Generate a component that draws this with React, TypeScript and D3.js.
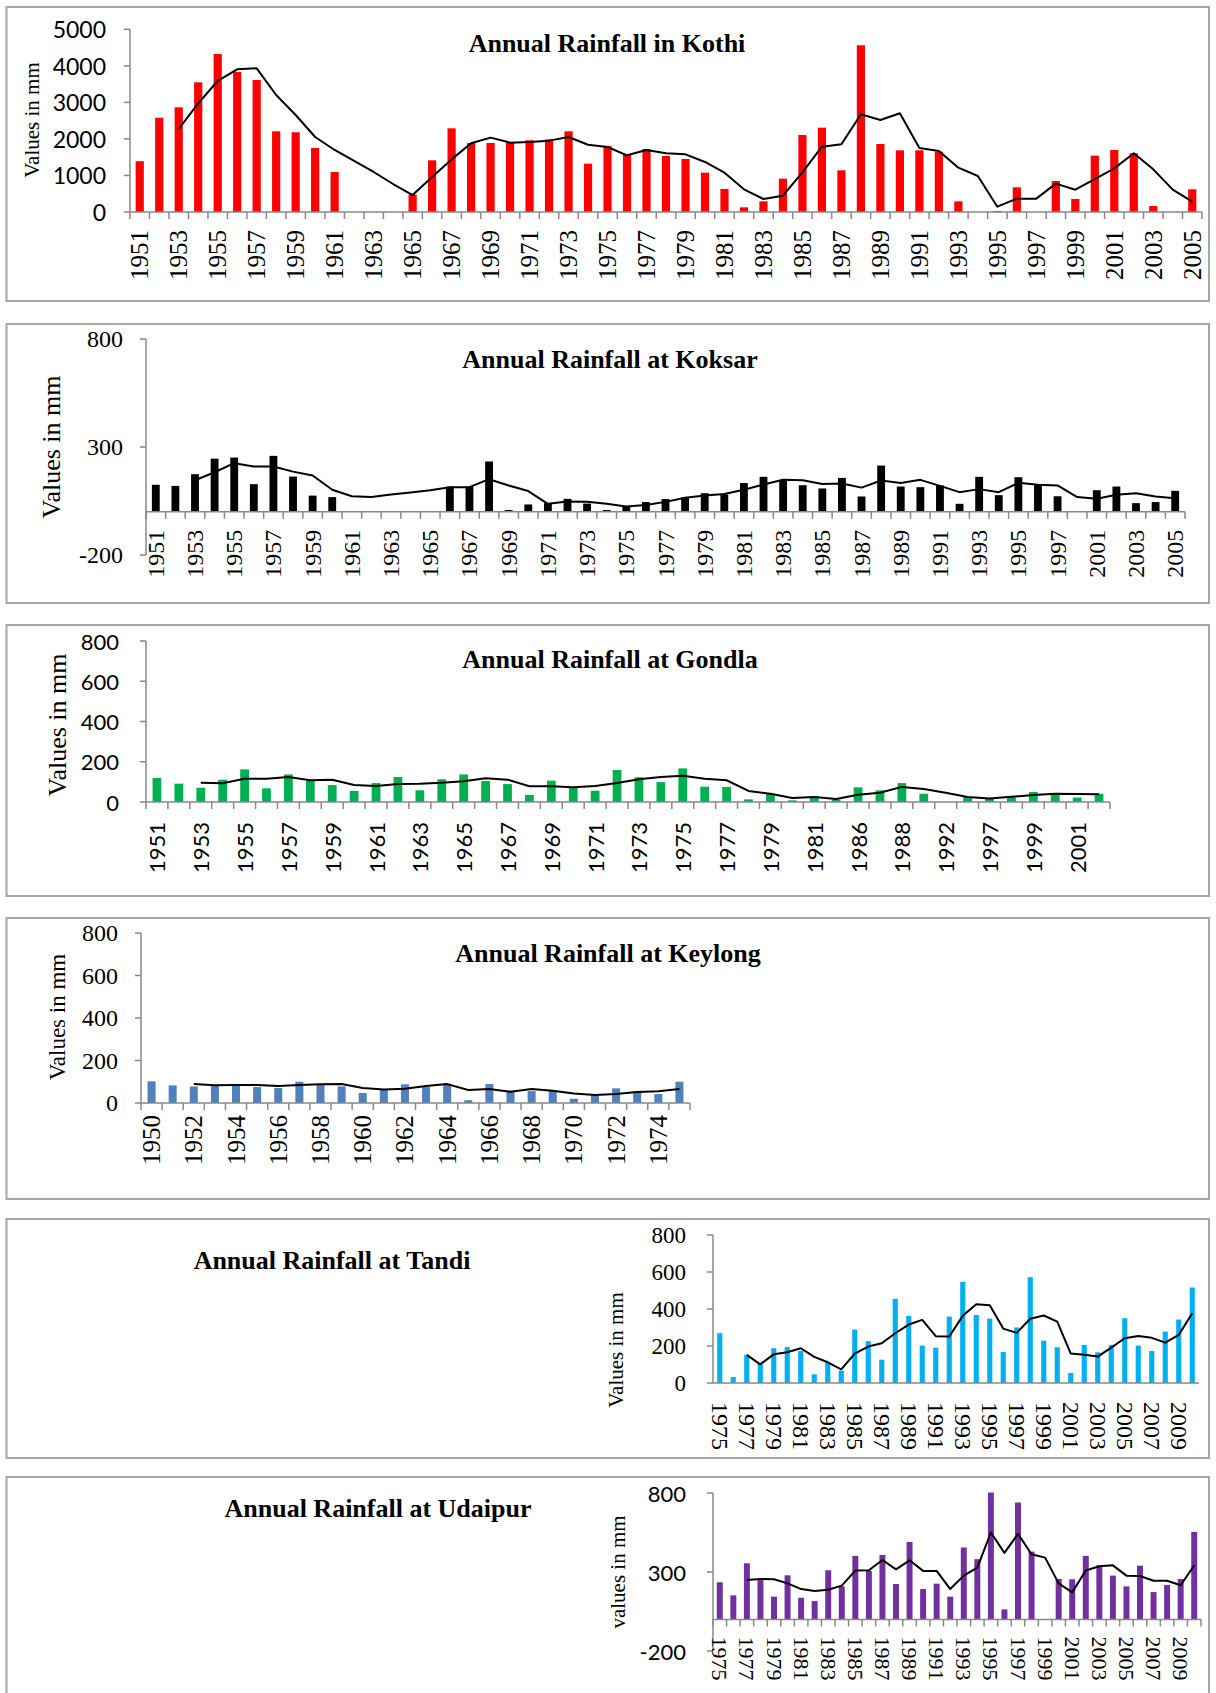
import React from 'react';
import * as d3 from 'd3';

// ---- Kothi ----
const kothiYears = d3.range(1951, 2006).map(String);
const kothiRain = [1390, 2580, 2865, 3549, 4325, 3832, 3613, 2208, 2181, 1752, 1095, null, null, null, 474,
  1414, 2290, 1889, 1889, 1907, 1962, 1989, 2208, 1323, 1807, 1560, 1724, 1533, 1451, 1077, 630, 128, 292, 912,
  2108, 2308, 1141, 4562, 1861, 1688, 1688, 1651, 292, null, 27, 675, null, 849, 356, 1542, 1697, 1606, 164, null, 620];
const kothiAvg = [null, null, 2272, 2975, 3586, 3905, 3932, 3202, 2655, 2053, 1697, 1396, 1095, 766, 465,
  960, 1440, 1880, 2035, 1898, 1919, 1953, 2053, 1840, 1779, 1551, 1697, 1606, 1578, 1369, 1077, 620, 356, 447,
  1086, 1788, 1852, 2673, 2518, 2701, 1752, 1670, 1214, 985, 146, 365, 365, 776, 611, 903, 1195, 1606, 1168, 611, 283];
const kothiTicks = [0, 1000, 2000, 3000, 4000, 5000];

// ---- Koksar ----
const koksarYears = [...d3.range(1951, 1998).map(String), '2000', '2001', '2002', '2003', '2004', '2005'];
const koksarRain = [125, 120, 174, 246, 251, 128, 259, 163, 75, 68, null, null, null, null, null,
  116, 116, 233, 8, 34, 40, 60, 38, 8, 24, 45, 59, 66, 86, 80, 133, 162, 148, 123, 108, 157, 71, 214,
  117, 114, 122, 37, 162, 77, 160, 126, 72, null, 100, 117, 40, 45, 97];
const koksarAvg = [null, null, 146, 183, 225, 210, 210, 186, 168, 102, 72, 69, 80, 89, 100,
  114, 114, 151, 122, 96, 37, 48, 46, 37, 25, 31, 46, 65, 75, 82, 102, 126, 148, 146, 129, 131, 112, 145,
  133, 148, 120, 91, 105, 91, 134, 125, 122, 68, 60, 79, 86, 71, 63];
const koksarTicks = [-200, 300, 800];

// ---- Gondla ----
const gondlaYears = [...d3.range(1951, 1982).map(String), '1984', '1986', '1987', '1988', '1991', '1992',
  '1996', '1997', '1998', '1999', '2000', '2001', '2002'];
const gondlaRain = [119, 91, 71, 111, 162, 68, 137, 106, 84, 55, 94, 124, 58, 113, 137, 104, 89, 35, 106, 71,
  56, 159, 123, 99, 167, 76, 75, 13, 41, 8, 28, 12, 73, 58, 94, 41, null, 25, 15, 25, 50, 38, 22, 41];
const gondlaAvg = [null, null, 96, 93, 116, 116, 124, 108, 111, 84, 79, 89, 91, 96, 103, 118, 111, 78, 78, 73,
  79, 94, 113, 124, 131, 116, 108, 55, 41, 20, 25, 15, 36, 46, 75, 65, 46, 25, 18, 26, 35, 41, 40, 38];
const gondlaTicks = [0, 200, 400, 600, 800];

// ---- Keylong ----
const keylongYears = d3.range(1950, 1976).map(String);
const keylongRain = [102, 83, 78, 83, 83, 75, 71, 100, 88, 78, 47, 64, 88, 75, 91, 13, 89, 58, 56, 58, 20, 39, 69, 52, 42, 100];
const keylongAvg = [null, null, 89, 83, 85, 85, 80, 85, 88, 89, 71, 64, 67, 80, 89, 61, 66, 53, 66, 58, 45, 38, 42, 52, 55, 66];
const keylongTicks = [0, 200, 400, 600, 800];

// ---- Tandi ----
const tandiYears = d3.range(1975, 2011).map(String);
const tandiRain = [269, 32, 152, 106, 188, 195, 173, 47, 114, 67, 289, 226, 126, 455, 363, 202, 191, 359, 547, 368,
  348, 168, 300, 572, 229, 193, 54, 206, 166, 206, 350, 202, 173, 278, 343, 516];
const tandiAvg = [null, null, 152, 101, 155, 166, 188, 141, 112, 74, 159, 197, 215, 269, 316, 341, 253, 251, 363, 426,
  420, 294, 271, 347, 365, 332, 159, 153, 143, 191, 242, 254, 244, 218, 260, 377];
const tandiTicks = [0, 200, 400, 600, 800];

// ---- Udaipur ----
const udaipurYears = d3.range(1975, 2011).map(String);
const udaipurRain = [235, 152, 355, 256, 144, 279, 137, 116, 311, 209, 402, 307, 408, 224, 490, 192, 226, 144, 455, 381,
  803, 63, 740, 429, null, 256, 254, 402, 342, 277, 209, 340, 173, 218, 256, 554];
const udaipurAvg = [null, null, 249, 256, 254, 228, 192, 180, 188, 214, 309, 311, 376, 317, 374, 307, 307, 192, 277, 328,
  550, 421, 541, 412, 391, 228, 171, 309, 336, 342, 277, 275, 245, 245, 216, 342];
const udaipurTicks = [-200, 300, 800];

const SERIF = '"Liberation Serif", "Times New Roman", serif';
const SANS = 'Lato, "Open Sans", sans-serif';
const AXIS = '#898989';

function Panel(p) {
  const x = d3.scaleBand().domain(p.years).range([p.left, p.right]).padding(0);
  const y = d3.scaleLinear().domain(p.domain).range([p.bottom, p.top]);
  const bw = x.bandwidth();
  const cx = (i) => x(p.years[i]) + bw / 2;
  const line = d3.line()
    .defined((d) => d != null)
    .x((d, i) => cx(i))
    .y((d) => y(d));
  const y0 = y(0);
  const labelY = y0 + p.labelGap;
  const yMin = d3.min(p.ticks);
  const yMax = d3.max(p.ticks);

  return (
    <g>
      <rect x={p.box[0]} y={p.box[1]} width={p.box[2] - p.box[0]} height={p.box[3] - p.box[1]}
        fill="none" stroke="#a6a6a6" strokeWidth={2} />
      {p.values.map((v, i) => v == null ? null : (
        <rect key={i} x={x(p.years[i]) + bw * (1 - p.barFrac) / 2} y={y(Math.max(v, 0))}
          width={bw * p.barFrac} height={Math.abs(y(v) - y0)} fill={p.color} />
      ))}
      {/* y axis */}
      <line x1={p.left} x2={p.left} y1={y(yMin)} y2={y(yMax)} stroke={AXIS} strokeWidth={1.5} />
      {p.ticks.map((t) => (
        <g key={t}>
          <line x1={p.left - 6} x2={p.left} y1={y(t)} y2={y(t)} stroke={AXIS} strokeWidth={1.5} />
          <text x={p.tickX} y={y(t)} textAnchor="end" dominantBaseline="central"
            fontFamily={p.tickFont} fontSize={p.tickSize} fill="#000">{t}</text>
        </g>
      ))}
      {/* x axis */}
      <line x1={p.left} x2={p.right} y1={y0} y2={y0} stroke={AXIS} strokeWidth={1.5} />
      {p.xTicks && [...p.years.map((c) => x(c)), p.right].map((xx, i) => (
        <line key={i} x1={xx} x2={xx} y1={y0} y2={y0 + 7} stroke={AXIS} strokeWidth={1.5} />
      ))}
      {p.years.map((c, i) => i % 2 !== 0 ? null : (
        <text key={c} transform={`translate(${cx(i)},${labelY}) rotate(${p.rot})`}
          textAnchor={p.rot < 0 ? 'end' : 'start'} dominantBaseline="central"
          fontFamily={p.labelFont} fontSize={p.labelSize} fill="#000">{c}</text>
      ))}
      <path d={line(p.avg)} fill="none" stroke="#000" strokeWidth={2} strokeLinejoin="round" />
      <text x={p.titleX} y={p.titleY} textAnchor="middle" fontFamily={SERIF} fontWeight="bold"
        fontSize={26} fill="#000">{p.title}</text>
      <text transform={`translate(${p.yTitleX},${p.yTitleY}) rotate(-90)`} textAnchor="middle"
        dominantBaseline="central" fontFamily={SERIF} fontSize={p.yTitleSize} fill="#000">{p.yTitle}</text>
    </g>
  );
}

export default function App() {
  return (
    <svg width={1216} height={1693} style={{ position: 'absolute', left: 0, top: 0, background: '#fff' }}>
      <rect width={1216} height={1693} fill="#fff" />
      <Panel years={kothiYears} values={kothiRain} avg={kothiAvg} ticks={kothiTicks} domain={[0, 5000]}
        box={[6.5, 7, 1209, 301]} left={130} right={1202} bottom={212} top={29.3} color="#ff0000" barFrac={0.42}
        tickX={106} tickFont={SANS} tickSize={23} xTicks labelGap={18} rot={-90} labelFont={SERIF} labelSize={25}
        title="Annual Rainfall in Kothi" titleX={607} titleY={52}
        yTitle="Values in mm" yTitleX={32} yTitleY={120} yTitleSize={21} />
      <Panel years={koksarYears} values={koksarRain} avg={koksarAvg} ticks={koksarTicks} domain={[-200, 800]}
        box={[6.5, 324, 1209, 603]} left={146} right={1185} bottom={555} top={339} color="#000000" barFrac={0.4}
        tickX={123} tickFont={SERIF} tickSize={24} xTicks labelGap={18} rot={-90} labelFont={SERIF} labelSize={24}
        title="Annual Rainfall at Koksar" titleX={610} titleY={368}
        yTitle="Values in mm" yTitleX={51} yTitleY={447} yTitleSize={26} />
      <Panel years={gondlaYears} values={gondlaRain} avg={gondlaAvg} ticks={gondlaTicks} domain={[0, 800]}
        box={[6.5, 625, 1209, 896]} left={146} right={1110} bottom={802} top={641} color="#00b050" barFrac={0.4}
        tickX={119} tickFont={SANS} tickSize={22} xTicks labelGap={20} rot={-90} labelFont={SANS} labelSize={22}
        title="Annual Rainfall at Gondla" titleX={610} titleY={668}
        yTitle="Values in mm" yTitleX={57} yTitleY={725} yTitleSize={26} />
      <Panel years={keylongYears} values={keylongRain} avg={keylongAvg} ticks={keylongTicks} domain={[0, 800]}
        box={[6.5, 918, 1209, 1199]} left={141} right={690} bottom={1103} top={933} color="#4f81bd" barFrac={0.38}
        tickX={118} tickFont={SERIF} tickSize={24} xTicks labelGap={12} rot={-90} labelFont={SERIF} labelSize={25}
        title="Annual Rainfall at Keylong" titleX={608} titleY={962}
        yTitle="Values in mm" yTitleX={57} yTitleY={1017} yTitleSize={23} />
      <Panel years={tandiYears} values={tandiRain} avg={tandiAvg} ticks={tandiTicks} domain={[0, 800]}
        box={[6.5, 1219, 1209, 1458]} left={713} right={1199} bottom={1383} top={1235} color="#00b0f0" barFrac={0.38}
        tickX={686} tickFont={SERIF} tickSize={23} xTicks={false} labelGap={19} rot={90} labelFont={SERIF} labelSize={24}
        title="Annual Rainfall at Tandi" titleX={332} titleY={1269}
        yTitle="Values in mm" yTitleX={616} yTitleY={1350} yTitleSize={21} />
      <Panel years={udaipurYears} values={udaipurRain} avg={udaipurAvg} ticks={udaipurTicks} domain={[-200, 800]}
        box={[6.5, 1477, 1209, 1710]} left={713} right={1201} bottom={1651} top={1493} color="#7030a0" barFrac={0.44}
        tickX={686} tickFont={SANS} tickSize={22} xTicks labelGap={17} rot={90} labelFont={SERIF} labelSize={22}
        title="Annual Rainfall at Udaipur" titleX={378} titleY={1517}
        yTitle="values in mm" yTitleX={618} yTitleY={1572} yTitleSize={21} />
    </svg>
  );
}
